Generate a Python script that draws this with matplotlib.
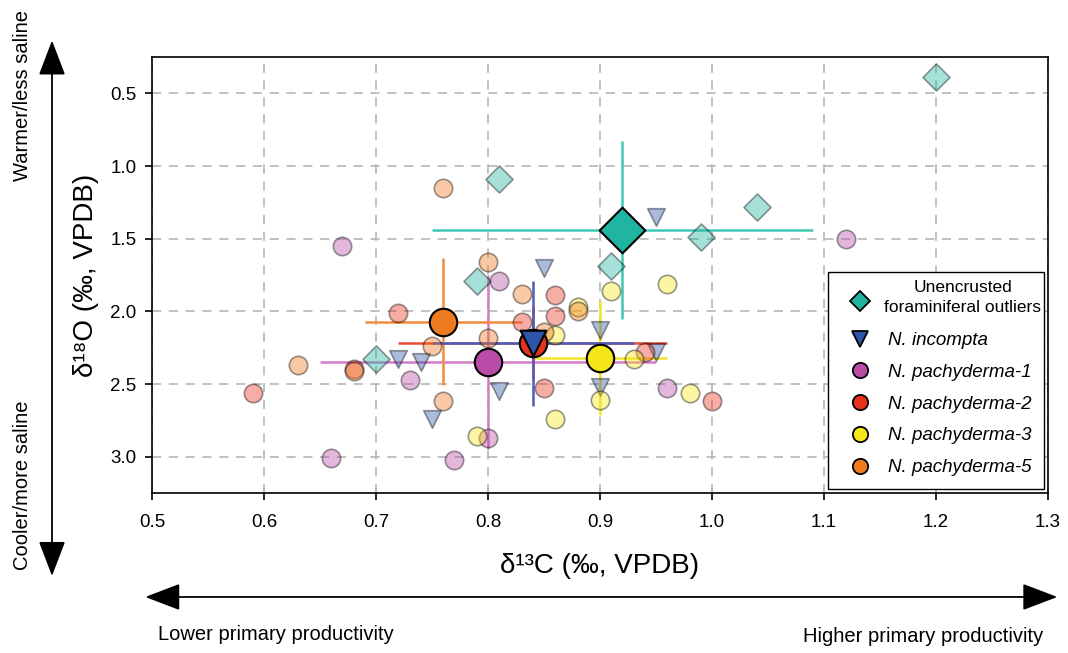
import matplotlib.pyplot as plt
from matplotlib.lines import Line2D
from matplotlib.patches import FancyArrowPatch

plt.rcParams['font.family'] = ['Liberation Sans', 'DejaVu Sans']

# individual measurements (d13C, d18O)
outlier_x = [1.20, 0.81, 1.04, 0.99, 0.91, 0.79, 0.70]
outlier_y = [0.39, 1.09, 1.28, 1.49, 1.69, 1.79, 2.33]

incompta_x = [0.95, 0.85, 0.72, 0.74, 0.81, 0.75, 0.90, 0.90, 0.95]
incompta_y = [1.35, 1.70, 2.33, 2.35, 2.55, 2.74, 2.13, 2.52, 2.28]

pachy1_x = [0.67, 1.12, 0.81, 0.73, 0.80, 0.77, 0.66, 0.96]
pachy1_y = [1.55, 1.50, 1.79, 2.47, 2.87, 3.02, 3.01, 2.53]

pachy2_x = [0.59, 0.68, 0.72, 0.86, 0.86, 0.83, 0.85, 1.00, 0.94]
pachy2_y = [2.56, 2.40, 2.01, 1.89, 2.03, 2.07, 2.53, 2.62, 2.28]

pachy3_x = [0.96, 0.91, 0.88, 0.86, 0.93, 0.98, 0.90, 0.86, 0.79]
pachy3_y = [1.81, 1.86, 1.97, 2.16, 2.33, 2.56, 2.61, 2.74, 2.86]

pachy5_x = [0.76, 0.80, 0.83, 0.80, 0.75, 0.63, 0.76, 0.88, 0.85, 0.68]
pachy5_y = [1.15, 1.66, 1.88, 2.18, 2.24, 2.37, 2.62, 2.00, 2.14, 2.41]

# group means and spreads
groups = ['Unencrusted\nforaminiferal outliers', 'N. incompta', 'N. pachyderma-1',
          'N. pachyderma-2', 'N. pachyderma-3', 'N. pachyderma-5']
mean_x = [0.92, 0.84, 0.80, 0.84, 0.90, 0.76]
mean_y = [1.44, 2.22, 2.35, 2.22, 2.32, 2.07]
err_x = [0.17, 0.09, 0.15, 0.12, 0.06, 0.07]
err_y = [0.61, 0.43, 0.60, 0.25, 0.39, 0.44]

colors = ['#1fb5a0', '#2f55a8', '#b84ca6', '#e8321e', '#f5e61c', '#f07a1e']
line_colors = ['#40c8b4', '#4f5cb8', '#d57cc5', '#ee4a35', '#f2e22c', '#f28c3c']
markers = ['D', 'v', 'o', 'o', 'o', 'o']
big_sizes = [540, 340, 390, 390, 390, 390]
small_sizes = [190, 160, 175, 175, 175, 175]

points = [(outlier_x, outlier_y), (incompta_x, incompta_y), (pachy1_x, pachy1_y),
          (pachy2_x, pachy2_y), (pachy3_x, pachy3_y), (pachy5_x, pachy5_y)]

fig = plt.figure(figsize=(10.68, 6.53), dpi=100)
ax = fig.add_axes([0.1423, 0.245, 0.839, 0.6677])

# error bars (drawn first)
for i in [0, 2, 3, 4, 5, 1]:
    ax.errorbar(mean_x[i], mean_y[i], xerr=err_x[i], yerr=err_y[i], fmt='none',
                ecolor=line_colors[i], elinewidth=1.8, capsize=0, zorder=2)

# individual points
for i, (px, py) in enumerate(points):
    ax.scatter(px, py, s=small_sizes[i], marker=markers[i], c=colors[i],
               alpha=0.4, edgecolors='k', linewidths=1.2, zorder=3)

# means
for i in [0, 2, 3, 4, 5, 1]:
    ax.scatter(mean_x[i], mean_y[i], s=big_sizes[i], marker=markers[i], c=colors[i],
               edgecolors='k', linewidths=1.5, zorder=5)

ax.set_xlim(0.5, 1.3)
ax.set_ylim(3.25, 0.25)
ax.set_xticks([0.5, 0.6, 0.7, 0.8, 0.9, 1.0, 1.1, 1.2, 1.3])
ax.set_yticks([0.5, 1.0, 1.5, 2.0, 2.5, 3.0])
ax.tick_params(labelsize=13.5, length=5, width=1.2, pad=6)
ax.tick_params(axis='x', pad=10)
ax.grid(True, linestyle=(0, (6, 5)), color='#b0b0b0', linewidth=1.1)
ax.set_axisbelow(True)
for sp in ax.spines.values():
    sp.set_linewidth(1.2)

ax.set_xlabel('δ¹³C (‰, VPDB)', fontsize=20, labelpad=16)
ax.set_ylabel('δ¹⁸O (‰, VPDB)', fontsize=20, labelpad=8)

handles = [Line2D([], [], linestyle='none', marker=markers[i], markersize=11 if i else 10,
                  markerfacecolor=colors[i], markeredgecolor='k', markeredgewidth=1.3)
           for i in range(6)]
# first entry keeps a blank two-line slot; its centred text is placed on top
leg_labels = [' \n '] + groups[1:]
leg = ax.legend(handles, leg_labels, loc='lower right', fontsize=13.5, frameon=True,
                fancybox=False, edgecolor='k', framealpha=1, labelspacing=0.78,
                borderaxespad=0.2, handletextpad=0.5, borderpad=0.7)
leg.get_frame().set_linewidth(1.0)
texts = leg.get_texts()
texts[0].set_fontsize(11.5)
for t in texts[1:]:
    t.set_fontstyle('italic')
ax.text(0.905, 0.448, groups[0], transform=ax.transAxes, ha='center', va='center',
        fontsize=12.5, multialignment='center', linespacing=1.45, zorder=10)

# direction arrows
varr = FancyArrowPatch((0.0487, 0.118), (0.0487, 0.938), transform=fig.transFigure,
                       arrowstyle='<|-|>,head_length=1.1,head_width=0.42',
                       mutation_scale=20, color='k', lw=1.3, shrinkA=0, shrinkB=0)
harr = FancyArrowPatch((0.136, 0.0858), (0.990, 0.0858), transform=fig.transFigure,
                       arrowstyle='<|-|>,head_length=1.1,head_width=0.42',
                       mutation_scale=20, color='k', lw=1.3, shrinkA=0, shrinkB=0)
fig.add_artist(varr)
fig.add_artist(harr)

fig.text(0.021, 0.854, 'Warmer/less saline', rotation=90, ha='center', va='center', fontsize=14.5)
fig.text(0.021, 0.257, 'Cooler/more saline', rotation=90, ha='center', va='center', fontsize=14.5)
fig.text(0.148, 0.029, 'Lower primary productivity', ha='left', va='center', fontsize=14.5)
fig.text(0.977, 0.025, 'Higher primary productivity', ha='right', va='center', fontsize=14.5)

fig.savefig('out.png', dpi=100)
